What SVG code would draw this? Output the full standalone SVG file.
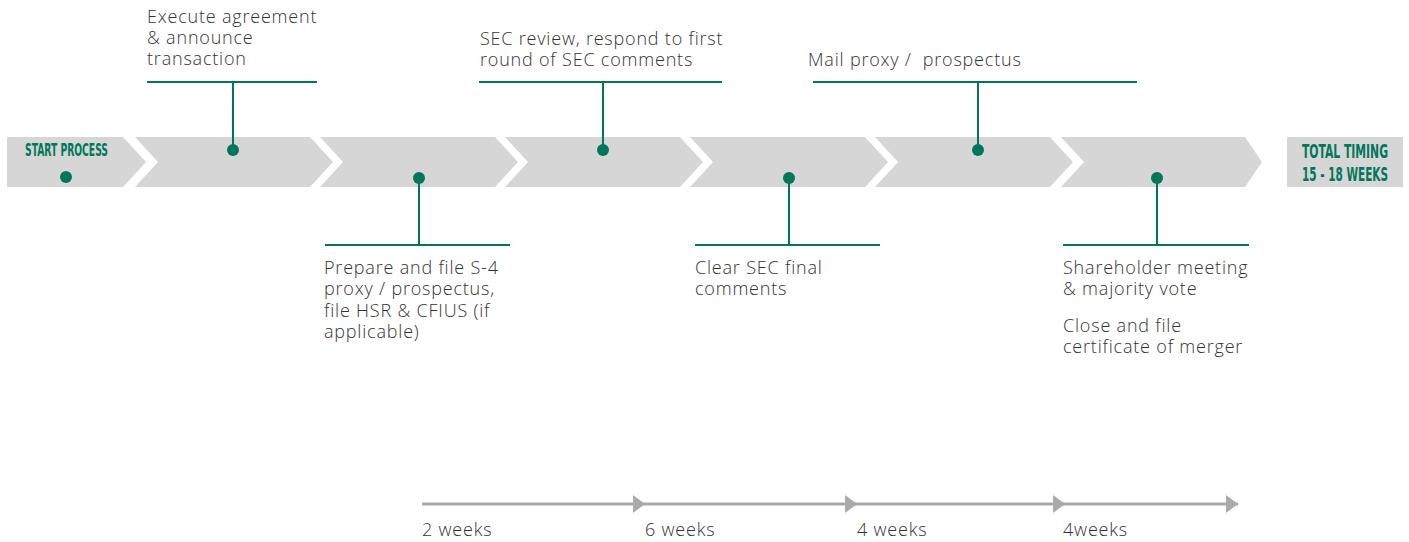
<svg xmlns="http://www.w3.org/2000/svg" width="1409" height="542" viewBox="0 0 1409 542">
<defs>
<style>
.band{fill:#d6d6d6}
.g{stroke:#00775a;stroke-width:2;fill:none}
.dot{fill:#00775a}
.t{font-family:"Open Sans","Noto Sans",sans-serif;font-weight:300;font-size:18px;letter-spacing:0.8px;fill:#333333}
.h{font-family:"DejaVu Sans Condensed","DejaVu Sans",sans-serif;font-weight:bold;fill:#00775a}
.ar{stroke:#aaaaaa;stroke-width:3;fill:none}
</style>
<marker id="ah" viewBox="0 0 12 18" refX="12" refY="9" markerWidth="12" markerHeight="18" markerUnits="userSpaceOnUse" orient="auto">
<path d="M0,0 L12,9 L0,18 Z" fill="#aaaaaa"/>
</marker>
</defs>
<g id="start">
<polygon class="band" points="7,137 123,137 146,162 123,187 7,187"/>
<text class="h" x="25" y="156" font-size="17.5" textLength="83" lengthAdjust="spacingAndGlyphs">START PROCESS</text>
<circle class="dot" cx="66" cy="177" r="6"/>
</g>
<g id="step1">
<polygon class="band" points="135,137 310,137 333,162 310,187 135,187 158,162"/>
<circle class="dot" cx="233" cy="150" r="6"/>
</g>
<g id="step2">
<polygon class="band" points="320,137 495,137 518,162 495,187 320,187 343,162"/>
<circle class="dot" cx="419" cy="178" r="6"/>
</g>
<g id="step3">
<polygon class="band" points="505,137 680,137 703,162 680,187 505,187 528,162"/>
<circle class="dot" cx="603" cy="150" r="6"/>
</g>
<g id="step4">
<polygon class="band" points="690,137 865,137 888,162 865,187 690,187 713,162"/>
<circle class="dot" cx="789" cy="178" r="6"/>
</g>
<g id="step5">
<polygon class="band" points="875,137 1050,137 1073,162 1050,187 875,187 898,162"/>
<circle class="dot" cx="978" cy="150" r="6"/>
</g>
<g id="step6">
<polygon class="band" points="1061,137 1245,137 1262,162 1245,187 1061,187 1084,162"/>
<circle class="dot" cx="1157" cy="178" r="6"/>
</g>
<g id="total">
<rect class="band" x="1287" y="137" width="116" height="50"/>
<text class="h" x="1302" y="158" font-size="20" textLength="86" lengthAdjust="spacingAndGlyphs">TOTAL TIMING</text>
<text class="h" x="1302" y="181" font-size="20" textLength="86" lengthAdjust="spacingAndGlyphs">15 - 18 WEEKS</text>
</g>
<g id="connectors">
<path class="g" d="M147,82 H317 M233,82 V150"/>
<path class="g" d="M479,82 H722 M603,82 V150"/>
<path class="g" d="M813,82 H1137 M978,82 V150"/>
<path class="g" d="M325,245 H510 M419,178 V245"/>
<path class="g" d="M695,245 H880 M789,178 V245"/>
<path class="g" d="M1063,245 H1249 M1157,178 V245"/>
<path class="ar" d="M422,504 H645" marker-end="url(#ah)"/>
<path class="ar" d="M645,504 H857" marker-end="url(#ah)"/>
<path class="ar" d="M857,504 H1065" marker-end="url(#ah)"/>
<path class="ar" d="M1065,504 H1238" marker-end="url(#ah)"/>
</g>
<g id="label-execute">
<text class="t" x="147" y="23">Execute agreement</text>
<text class="t" x="147" y="44">&amp; announce</text>
<text class="t" x="147" y="65">transaction</text>
</g>
<g id="label-sec">
<text class="t" x="480" y="45">SEC review, respond to first</text>
<text class="t" x="480" y="66">round of SEC comments</text>
</g>
<g id="label-mail">
<text class="t" x="808" y="66" xml:space="preserve">Mail proxy /  prospectus</text>
</g>
<g id="label-prepare">
<text class="t" x="324" y="274">Prepare and file S-4</text>
<text class="t" x="324" y="295">proxy / prospectus,</text>
<text class="t" x="324" y="317">file HSR &amp; CFIUS (if</text>
<text class="t" x="324" y="338">applicable)</text>
</g>
<g id="label-clear">
<text class="t" x="695" y="274">Clear SEC final</text>
<text class="t" x="695" y="295">comments</text>
</g>
<g id="label-share">
<text class="t" x="1063" y="274">Shareholder meeting</text>
<text class="t" x="1063" y="295">&amp; majority vote</text>
<text class="t" x="1063" y="332">Close and file</text>
<text class="t" x="1063" y="353">certificate of merger</text>
</g>
<g id="weeks">
<text class="t" x="422" y="536">2 weeks</text>
<text class="t" x="645" y="536">6 weeks</text>
<text class="t" x="857" y="536">4 weeks</text>
<text class="t" x="1063" y="536">4weeks</text>
</g>
</svg>
